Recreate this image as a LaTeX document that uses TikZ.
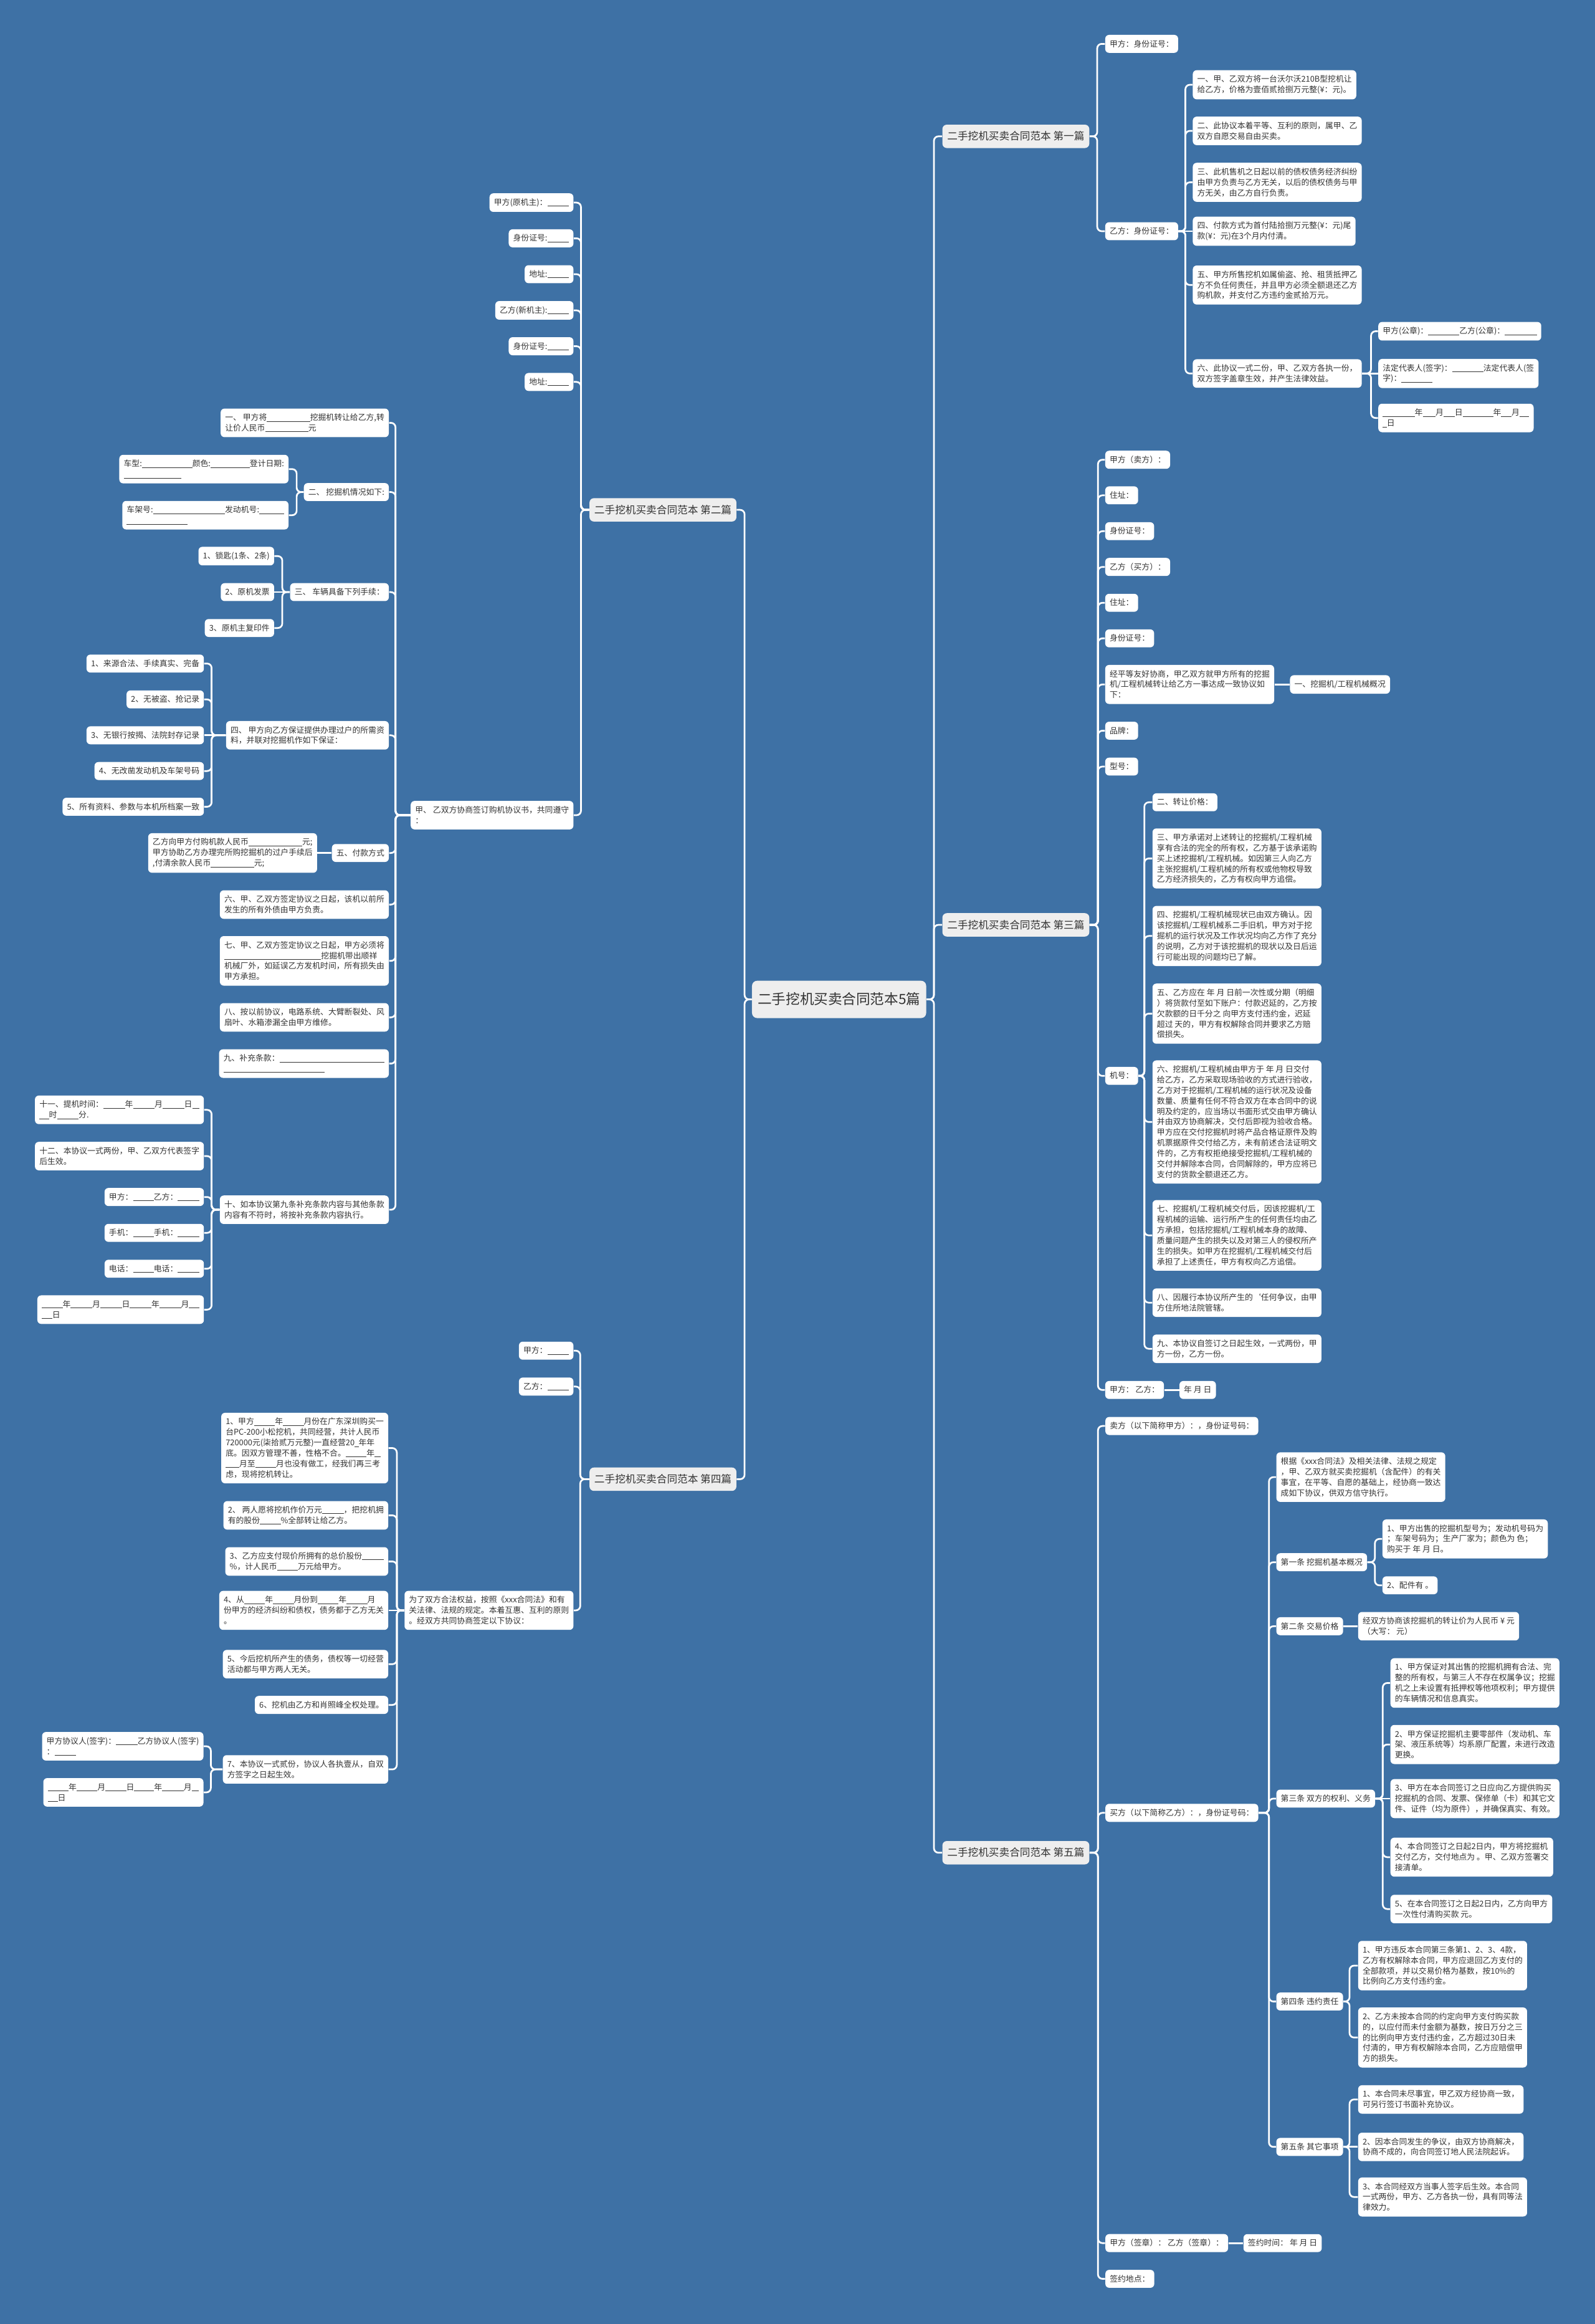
\documentclass[tikz,border=0pt]{standalone}
\usepackage{fontspec}
\setmainfont{Noto Sans CJK SC}
\newcommand\bl[1]{\rule[-0.13em]{#1em}{0.065em}}
\newcommand\lkR[3]{\draw[link] (#1.east) -- (#1.east -| #3) -- (#2.west -| #3) -- (#2.west);}
\newcommand\lkL[3]{\draw[link] (#1.west) -- (#1.west -| #3) -- (#2.east -| #3) -- (#2.east);}
\newcommand\lkSR[2]{\draw[link] (#1.east) -- (#2.west);}
\newcommand\lkSL[2]{\draw[link] (#1.west) -- (#2.east);}
\definecolor{bgblue}{HTML}{3E71A5}
\definecolor{ink}{HTML}{333333}
\definecolor{hubfill}{HTML}{EEEEEE}
\tikzset{
 leaf/.style={fill=white, rounded corners=2.6pt, inner xsep=3pt, inner ysep=3.45pt, align=left, text=ink,
   font=\fontsize{5.4pt}{7.1pt}\selectfont,
   execute at begin node={\rule[-0.12em]{0pt}{0.88em}},
   execute at end node={\rule[-0.12em]{0pt}{0.88em}}},
 rleaf/.style={leaf, anchor=west},
 lleaf/.style={leaf, anchor=east},
 hub/.style={fill=hubfill, rounded corners=3pt, text=ink, inner xsep=3.3pt, inner ysep=4.5pt,
   font=\fontsize{7pt}{8.5pt}\selectfont,
   execute at begin node={\rule[-0.12em]{0pt}{0.88em}}},
 rootnode/.style={fill=hubfill, rounded corners=3.5pt, text=ink, inner xsep=3.9pt, inner ysep=8pt,
   font=\fontsize{9.5pt}{11pt}\selectfont,
   execute at begin node={\rule[-0.12em]{0pt}{0.88em}}},
 link/.style={draw=white, line width=1.15pt, rounded corners=3pt}
}
\begin{document}
\begin{tikzpicture}[x=1pt,y=-1pt]
\path[use as bounding box, fill=bgblue] (0,0) rectangle (1076.4,1568);

% trunks
\coordinate (tr0) at (630.3,0);
\coordinate (tl0) at (502.5,0);
\coordinate (t1) at (740.5,0);
\coordinate (t2) at (800,0);
\coordinate (t3) at (925.3,0);
\coordinate (t4) at (392.1,0);
\coordinate (t5) at (266.9,0);
\coordinate (t6) at (200.2,0);
\coordinate (t7) at (190.5,0);
\coordinate (t8) at (142.8,0);
\coordinate (t9) at (142.8,0);
\coordinate (t10) at (741,0);
\coordinate (t11) at (772.3,0);
\coordinate (t12) at (391.6,0);
\coordinate (t13) at (267.8,0);
\coordinate (t14) at (142.3,0);
\coordinate (t15) at (741,0);
\coordinate (t16) at (856.4,0);
\coordinate (t17) at (927.9,0);
\coordinate (t18) at (933.2,0);
\coordinate (t19) at (910.8,0);

% root and branches
\node[rootnode] (r) at (566.3,674.3) {二手挖机买卖合同范本5篇};
\node[hub, anchor=west] (b1) at (635.8,92) {二手挖机买卖合同范本 第一篇};
\node[hub, anchor=east] (b2) at (497.2,344) {二手挖机买卖合同范本 第二篇};
\node[hub, anchor=west] (b3) at (635.8,624) {二手挖机买卖合同范本 第三篇};
\node[hub, anchor=east] (b4) at (497.2,998) {二手挖机买卖合同范本 第四篇};
\node[hub, anchor=west] (b5) at (635.8,1250) {二手挖机买卖合同范本 第五篇};
\lkR{r}{b1}{tr0} \lkR{r}{b3}{tr0} \lkR{r}{b5}{tr0}
\lkL{r}{b2}{tl0} \lkL{r}{b4}{tl0}

% ---------- 第一篇
\node[rleaf] (a1) at (745.7,29.6) {甲方：身份证号：};
\node[rleaf] (a2) at (745.7,156) {乙方：身份证号：};
\lkR{b1}{a1}{t1} \lkR{b1}{a2}{t1}
\node[rleaf] (a21) at (804.8,57.2) {一、甲、乙双方将一台沃尔沃210B型挖机让\\给乙方，价格为壹佰贰拾捌万元整(¥：元)。};
\node[rleaf] (a22) at (804.8,88.3) {二、此协议本着平等、互利的原则，属甲、乙\\双方自愿交易自由买卖。};
\node[rleaf] (a23) at (804.8,123) {三、此机售机之日起以前的债权债务经济纠纷\\由甲方负责与乙方无关，以后的债权债务与甲\\方无关，由乙方自行负责。};
\node[rleaf] (a24) at (804.8,156) {四、付款方式为首付陆拾捌万元整(¥：元)尾\\款(¥：元)在3个月内付清。};
\node[rleaf] (a25) at (804.8,192.3) {五、甲方所售挖机如属偷盗、抢、租赁抵押乙\\方不负任何责任，并且甲方必须全额退还乙方\\购机款，并支付乙方违约金贰拾万元。};
\node[rleaf] (a26) at (804.8,252) {六、此协议一式二份，甲、乙双方各执一份，\\双方签字盖章生效，并产生法律效益。};
\lkR{a2}{a21}{t2} \lkR{a2}{a22}{t2} \lkR{a2}{a23}{t2} \lkSR{a2}{a24}
\lkR{a2}{a25}{t2} \lkR{a2}{a26}{t2}
\node[rleaf] (a261) at (930,223.5) {甲方(公章)：\bl{3.9}乙方(公章)：\bl{4}};
\node[rleaf] (a262) at (930,252) {法定代表人(签字)：\bl{3.9}法定代表人(签\\字)：\bl{3.9}};
\node[rleaf] (a263) at (930,282) {\bl{4}年\bl{1.6}月\bl{1.4}日\bl{3.8}年\bl{1.3}月\bl{1.2}\\\bl{0.5}日};
\lkR{a26}{a261}{t3} \lkSR{a26}{a262} \lkR{a26}{a263}{t3}

% ---------- 第二篇
\node[lleaf] (c1) at (387.2,136.7) {甲方(原机主)：\bl{2.7}};
\node[lleaf] (c2) at (387.2,160.8) {身份证号:\bl{2.7}};
\node[lleaf] (c3) at (387.2,185) {地址:\bl{2.7}};
\node[lleaf] (c4) at (387.2,209.4) {乙方(新机主):\bl{2.7}};
\node[lleaf] (c5) at (387.2,233.6) {身份证号:\bl{2.7}};
\node[lleaf] (c6) at (387.2,257.7) {地址:\bl{2.7}};
\node[lleaf] (c7) at (387.2,550) {甲、 乙双方协商签订购机协议书，共同遵守\\：};
\foreach \n in {c1,c2,c3,c4,c5,c6,c7} {\lkL{b2}{\n}{t4}}

\node[lleaf] (d1) at (262.6,285.3) {一、 甲方将\bl{5.4}挖掘机转让给乙方,转\\让价人民币\bl{5.4}元};
\node[lleaf] (d2) at (262.6,332) {二、 挖掘机情况如下:};
\node[lleaf] (d3) at (262.6,399.5) {三、 车辆具备下列手续：};
\node[lleaf] (d4) at (262.6,496.1) {四、 甲方向乙方保证提供办理过户的所需资\\料，并联对挖掘机作如下保证：};
\node[lleaf] (d5) at (262.6,575.5) {五、付款方式};
\node[lleaf] (d6) at (262.6,610.3) {六、甲、乙双方签定协议之日起，该机以前所\\发生的所有外债由甲方负责。};
\node[lleaf] (d7) at (262.6,648.3) {七、甲、乙双方签定协议之日起，甲方必须将\\\bl{12.1}挖掘机带出顺祥\\机械厂外，如延误乙方发机时间，所有损失由\\甲方承担。};
\node[lleaf] (d8) at (262.6,686.4) {八、按以前协议，电路系统、大臂断裂处、风\\扇叶、水箱渗漏全由甲方维修。};
\node[lleaf] (d9) at (262.6,717.6) {九、补充条款：\bl{13.1}\\\bl{12.6}};
\node[lleaf] (d10) at (262.6,816.2) {十、如本协议第九条补充条款内容与其他条款\\内容有不符时，将按补充条款内容执行。};
\foreach \n in {d1,d2,d3,d4,d5,d6,d7,d8,d9,d10} {\lkL{c7}{\n}{t5}}

\node[lleaf] (d21) at (194.9,316.5) {车型:\bl{6.3}颜色:\bl{4.9}登计日期:\\\bl{7.2}};
\node[lleaf] (d22) at (194.9,347.6) {车架号:\bl{9}发动机号:\bl{3.1}\\\bl{7.6}};
\lkL{d2}{d21}{t6} \lkL{d2}{d22}{t6}

\node[lleaf] (d31) at (185.2,375.2) {1、锁匙(1条、2条)};
\node[lleaf] (d32) at (185.2,399.5) {2、原机发票};
\node[lleaf] (d33) at (185.2,423.7) {3、原机主复印件};
\lkL{d3}{d31}{t7} \lkSL{d3}{d32} \lkL{d3}{d33}{t7}

\node[lleaf] (d41) at (137.8,447.7) {1、来源合法、手续真实、完备};
\node[lleaf] (d42) at (137.8,471.9) {2、无被盗、抢记录};
\node[lleaf] (d43) at (137.8,496.1) {3、无银行按揭、法院封存记录};
\node[lleaf] (d44) at (137.8,520.2) {4、无改凿发动机及车架号码};
\node[lleaf] (d45) at (137.8,544.3) {5、所有资料、参数与本机所档案一致};
\lkL{d4}{d41}{t8} \lkL{d4}{d42}{t8} \lkSL{d4}{d43} \lkL{d4}{d44}{t8} \lkL{d4}{d45}{t8}

\node[lleaf] (d51) at (214.2,575.5) {乙方向甲方付购机款人民币\bl{6.7}元;\\甲方协助乙方办理完所购挖掘机的过户手续后\\,付清余款人民币\bl{5.4}元;};
\lkSL{d5}{d51}

\node[lleaf] (e1) at (137.8,748.8) {十一、提机时间：\bl{2.7}年\bl{2.7}月\bl{2.7}日\bl{0.9}\\\bl{1.2}时\bl{2.7}分.};
\node[lleaf] (e2) at (137.8,780) {十二、本协议一式两份，甲、乙双方代表签字\\后生效。};
\node[lleaf] (e3) at (137.8,807.6) {甲方：\bl{2.6}乙方：\bl{2.7}};
\node[lleaf] (e4) at (137.8,831.8) {手机：\bl{2.6}手机：\bl{2.7}};
\node[lleaf] (e5) at (137.8,856) {电话：\bl{2.6}电话：\bl{2.7}};
\node[lleaf] (e6) at (137.8,883.6) {\bl{2.6}年\bl{2.7}月\bl{2.7}日\bl{2.7}年\bl{2.7}月\bl{1.3}\\\bl{1.3}日};
\foreach \n in {e1,e2,e3,e4,e5,e6} {\lkL{d10}{\n}{t9}}

% ---------- 第三篇
\node[rleaf] (f1) at (745.7,310.2) {甲方（卖方）：};
\node[rleaf] (f2) at (745.7,334.2) {住址：};
\node[rleaf] (f3) at (745.7,358.4) {身份证号：};
\node[rleaf] (f4) at (745.7,382.5) {乙方（买方）：};
\node[rleaf] (f5) at (745.7,406.7) {住址：};
\node[rleaf] (f6) at (745.7,430.7) {身份证号：};
\node[rleaf] (f7) at (745.7,461.8) {经平等友好协商，甲乙双方就甲方所有的挖掘\\机/工程机械转让给乙方一事达成一致协议如\\下：};
\node[rleaf] (f8) at (745.7,493) {品牌：};
\node[rleaf] (f9) at (745.7,517.2) {型号：};
\node[rleaf] (f10) at (745.7,725.9) {机号：};
\node[rleaf] (f11) at (745.7,937.8) {甲方： 乙方：};
\foreach \n in {f1,f2,f3,f4,f5,f6,f7,f8,f9,f10,f11} {\lkR{b3}{\n}{t10}}
\node[rleaf] (f71) at (870.4,461.8) {一、挖掘机/工程机械概况};
\lkSR{f7}{f71}
\node[rleaf] (f111) at (795.8,937.8) {年 月 日};
\lkSR{f11}{f111}

\node[rleaf] (g2) at (777.6,541.3) {二、转让价格：};
\node[rleaf] (g3) at (777.6,579.2) {三、甲方承诺对上述转让的挖掘机/工程机械\\享有合法的完全的所有权，乙方基于该承诺购\\买上述挖掘机/工程机械。如因第三人向乙方\\主张挖掘机/工程机械的所有权或他物权导致\\乙方经济损失的，乙方有权向甲方追偿。};
\node[rleaf] (g4) at (777.6,631.5) {四、挖掘机/工程机械现状已由双方确认。因\\该挖掘机/工程机械系二手旧机，甲方对于挖\\掘机的运行状况及工作状况均向乙方作了充分\\的说明，乙方对于该挖掘机的现状以及日后运\\行可能出现的问题均已了解。};
\node[rleaf] (g5) at (777.6,683.9) {五、乙方应在 年 月 日前一次性或分期（明细\\）将货款付至如下账户：付款迟延的，乙方按\\欠款额的日千分之 向甲方支付违约金，迟延\\超过 天的，甲方有权解除合同并要求乙方赔\\偿损失。};
\node[rleaf] (g6) at (777.6,757) {六、挖掘机/工程机械由甲方于 年 月 日交付\\给乙方，乙方采取现场验收的方式进行验收，\\乙方对于挖掘机/工程机械的运行状况及设备\\数量、质量有任何不符合双方在本合同中的说\\明及约定的，应当场以书面形式交由甲方确认\\并由双方协商解决，交付后即视为验收合格。\\甲方应在交付挖掘机时将产品合格证原件及购\\机票据原件交付给乙方，未有前述合法证明文\\件的，乙方有权拒绝接受挖掘机/工程机械的\\交付并解除本合同，合同解除的，甲方应将已\\支付的货款全额退还乙方。};
\node[rleaf] (g7) at (777.6,833.5) {七、挖掘机/工程机械交付后，因该挖掘机/工\\程机械的运输、运行所产生的任何责任均由乙\\方承担，包括挖掘机/工程机械本身的故障、\\质量问题产生的损失以及对第三人的侵权所产\\生的损失。如甲方在挖掘机/工程机械交付后\\承担了上述责任，甲方有权向乙方追偿。};
\node[rleaf] (g8) at (777.6,878.9) {八、因履行本协议所产生的`任何争议，由甲\\方住所地法院管辖。};
\node[rleaf] (g9) at (777.6,910) {九、本协议自签订之日起生效，一式两份，甲\\方一份，乙方一份。};
\foreach \n in {g2,g3,g4,g5,g6,g7,g8,g9} {\lkR{f10}{\n}{t11}}

% ---------- 第四篇
\node[lleaf] (h1) at (387.2,911.3) {甲方：\bl{2.7}};
\node[lleaf] (h2) at (387.2,935.5) {乙方：\bl{2.7}};
\node[lleaf] (h3) at (387.2,1086.5) {为了双方合法权益，按照《xxx合同法》和有\\关法律、法规的规定。本着互惠、互利的原则\\。经双方共同协商签定以下协议：};
\foreach \n in {h1,h2,h3} {\lkL{b4}{\n}{t12}}

\node[lleaf] (i1) at (262.2,977) {1、甲方\bl{2.6}年\bl{2.6}月份在广东深圳购买一\\台PC-200小松挖机，共同经营，共计人民币\\720000元(柒拾贰万元整)一直经营20\bl{0.5}年年\\底。因双方管理不善，性格不合。\bl{2.6}年\bl{0.75}\\\bl{1.7}月至\bl{2.6}月也没有做工，经我们再三考\\虑，现将挖机转让。};
\node[lleaf] (i2) at (262.2,1022.4) {2、 两人愿将挖机作价万元\bl{2.7}，把挖机拥\\有的股份\bl{2.6}\%全部转让给乙方。};
\node[lleaf] (i3) at (262.2,1053.5) {3、乙方应支付现价所拥有的总价股份\bl{2.7}\\\%，计人民币\bl{2.6}万元给甲方。};
\node[lleaf] (i4) at (262.2,1086.5) {4、从\bl{2.6}年\bl{2.6}月份到\bl{2.6}年\bl{2.6}月\\份甲方的经济纠纷和债权，债务都于乙方无关\\。};
\node[lleaf] (i5) at (262.2,1122.8) {5、今后挖机所产生的债务，债权等一切经营\\活动都与甲方两人无关。};
\node[lleaf] (i6) at (262.2,1150.3) {6、挖机由乙方和肖照峰全权处理。};
\node[lleaf] (i7) at (262.2,1193.8) {7、本协议一式贰份，协议人各执壹从，自双\\方签字之日起生效。};
\lkL{h3}{i1}{t13} \lkL{h3}{i2}{t13} \lkL{h3}{i3}{t13} \lkSL{h3}{i4}
\lkL{h3}{i5}{t13} \lkL{h3}{i6}{t13} \lkL{h3}{i7}{t13}

\node[lleaf] (j1) at (137.5,1178.2) {甲方协议人(签字)：\bl{2.7}乙方协议人(签字)\\：\bl{2.7}};
\node[lleaf] (j2) at (137.5,1209.3) {\bl{2.6}年\bl{2.6}月\bl{2.6}日\bl{2.5}年\bl{2.7}月\bl{0.9}\\\bl{1.25}日};
\lkL{i7}{j1}{t14} \lkL{i7}{j2}{t14}

% ---------- 第五篇
\node[rleaf] (k1) at (745.8,962.1) {卖方（以下简称甲方）：，身份证号码：};
\node[rleaf] (k2) at (745.8,1223.1) {买方（以下简称乙方）：，身份证号码：};
\node[rleaf] (k3) at (745.8,1513.4) {甲方（签章）： 乙方（签章）：};
\node[rleaf] (k4) at (745.8,1537.5) {签约地点：};
\foreach \n in {k1,k2,k3,k4} {\lkR{b5}{\n}{t15}}
\node[rleaf] (k31) at (839,1513.4) {签约时间： 年 月 日};
\lkSR{k3}{k31}

\node[rleaf] (m1) at (861.2,996.6) {根据《xxx合同法》及相关法律、法规之规定\\，甲、乙双方就买卖挖掘机（含配件）的有关\\事宜，在平等、自愿的基础上，经协商一致达\\成如下协议，供双方信守执行。};
\node[rleaf] (m2) at (861.2,1054) {第一条 挖掘机基本概况};
\node[rleaf] (m3) at (861.2,1097.2) {第二条 交易价格};
\node[rleaf] (m4) at (861.2,1213.5) {第三条 双方的权利、义务};
\node[rleaf] (m5) at (861.2,1350.4) {第四条 违约责任};
\node[rleaf] (m6) at (861.2,1448.5) {第五条 其它事项};
\foreach \n in {m1,m2,m3,m4,m5,m6} {\lkR{k2}{\n}{t16}}

\node[rleaf] (m21) at (932.8,1038.3) {1、甲方出售的挖掘机型号为；发动机号码为\\；车架号码为；生产厂家为；颜色为 色；\\购买于 年 月 日。};
\node[rleaf] (m22) at (932.8,1069.6) {2、配件有 。};
\lkR{m2}{m21}{t17} \lkR{m2}{m22}{t17}

\node[rleaf] (m31) at (916.4,1097.2) {经双方协商该挖掘机的转让价为人民币 ¥ 元\\（大写： 元）};
\lkSR{m3}{m31}

\node[rleaf] (m41) at (938.2,1135.5) {1、甲方保证对其出售的挖掘机拥有合法、完\\整的所有权，与第三人不存在权属争议；挖掘\\机之上未设置有抵押权等他项权利；甲方提供\\的车辆情况和信息真实。};
\node[rleaf] (m42) at (938.2,1177) {2、甲方保证挖掘机主要零部件（发动机、车\\架、液压系统等）均系原厂配置，未进行改造\\更换。};
\node[rleaf] (m43) at (938.2,1213.5) {3、甲方在本合同签订之日应向乙方提供购买\\挖掘机的合同、发票、保修单（卡）和其它文\\件、证件（均为原件），并确保真实、有效。};
\node[rleaf] (m44) at (938.2,1253) {4、本合同签订之日起2日内，甲方将挖掘机\\交付乙方，交付地点为 。甲、乙双方签署交\\接清单。};
\node[rleaf] (m45) at (938.2,1288) {5、在本合同签订之日起2日内，乙方向甲方\\一次性付清购买款 元。};
\lkR{m4}{m41}{t18} \lkR{m4}{m42}{t18} \lkSR{m4}{m43} \lkR{m4}{m44}{t18} \lkR{m4}{m45}{t18}

\node[rleaf] (m51) at (916.4,1326.2) {1、甲方违反本合同第三条第1、2、3、4款，\\乙方有权解除本合同，甲方应退回乙方支付的\\全部款项，并以交易价格为基数，按10\%的\\比例向乙方支付违约金。};
\node[rleaf] (m52) at (916.4,1374.7) {2、乙方未按本合同的约定向甲方支付购买款\\的，以应付而未付金额为基数，按日万分之三\\的比例向甲方支付违约金，乙方超过30日未\\付清的，甲方有权解除本合同，乙方应赔偿甲\\方的损失。};
\lkR{m5}{m51}{t19} \lkR{m5}{m52}{t19}

\node[rleaf] (m61) at (916.4,1416.5) {1、本合同未尽事宜，甲乙双方经协商一致，\\可另行签订书面补充协议。};
\node[rleaf] (m62) at (916.4,1448.5) {2、因本合同发生的争议，由双方协商解决，\\协商不成的，向合同签订地人民法院起诉。};
\node[rleaf] (m63) at (916.4,1482.3) {3、本合同经双方当事人签字后生效。本合同\\一式两份，甲方、乙方各执一份，具有同等法\\律效力。};
\lkR{m6}{m61}{t19} \lkSR{m6}{m62} \lkR{m6}{m63}{t19}
\end{tikzpicture}
\end{document}
